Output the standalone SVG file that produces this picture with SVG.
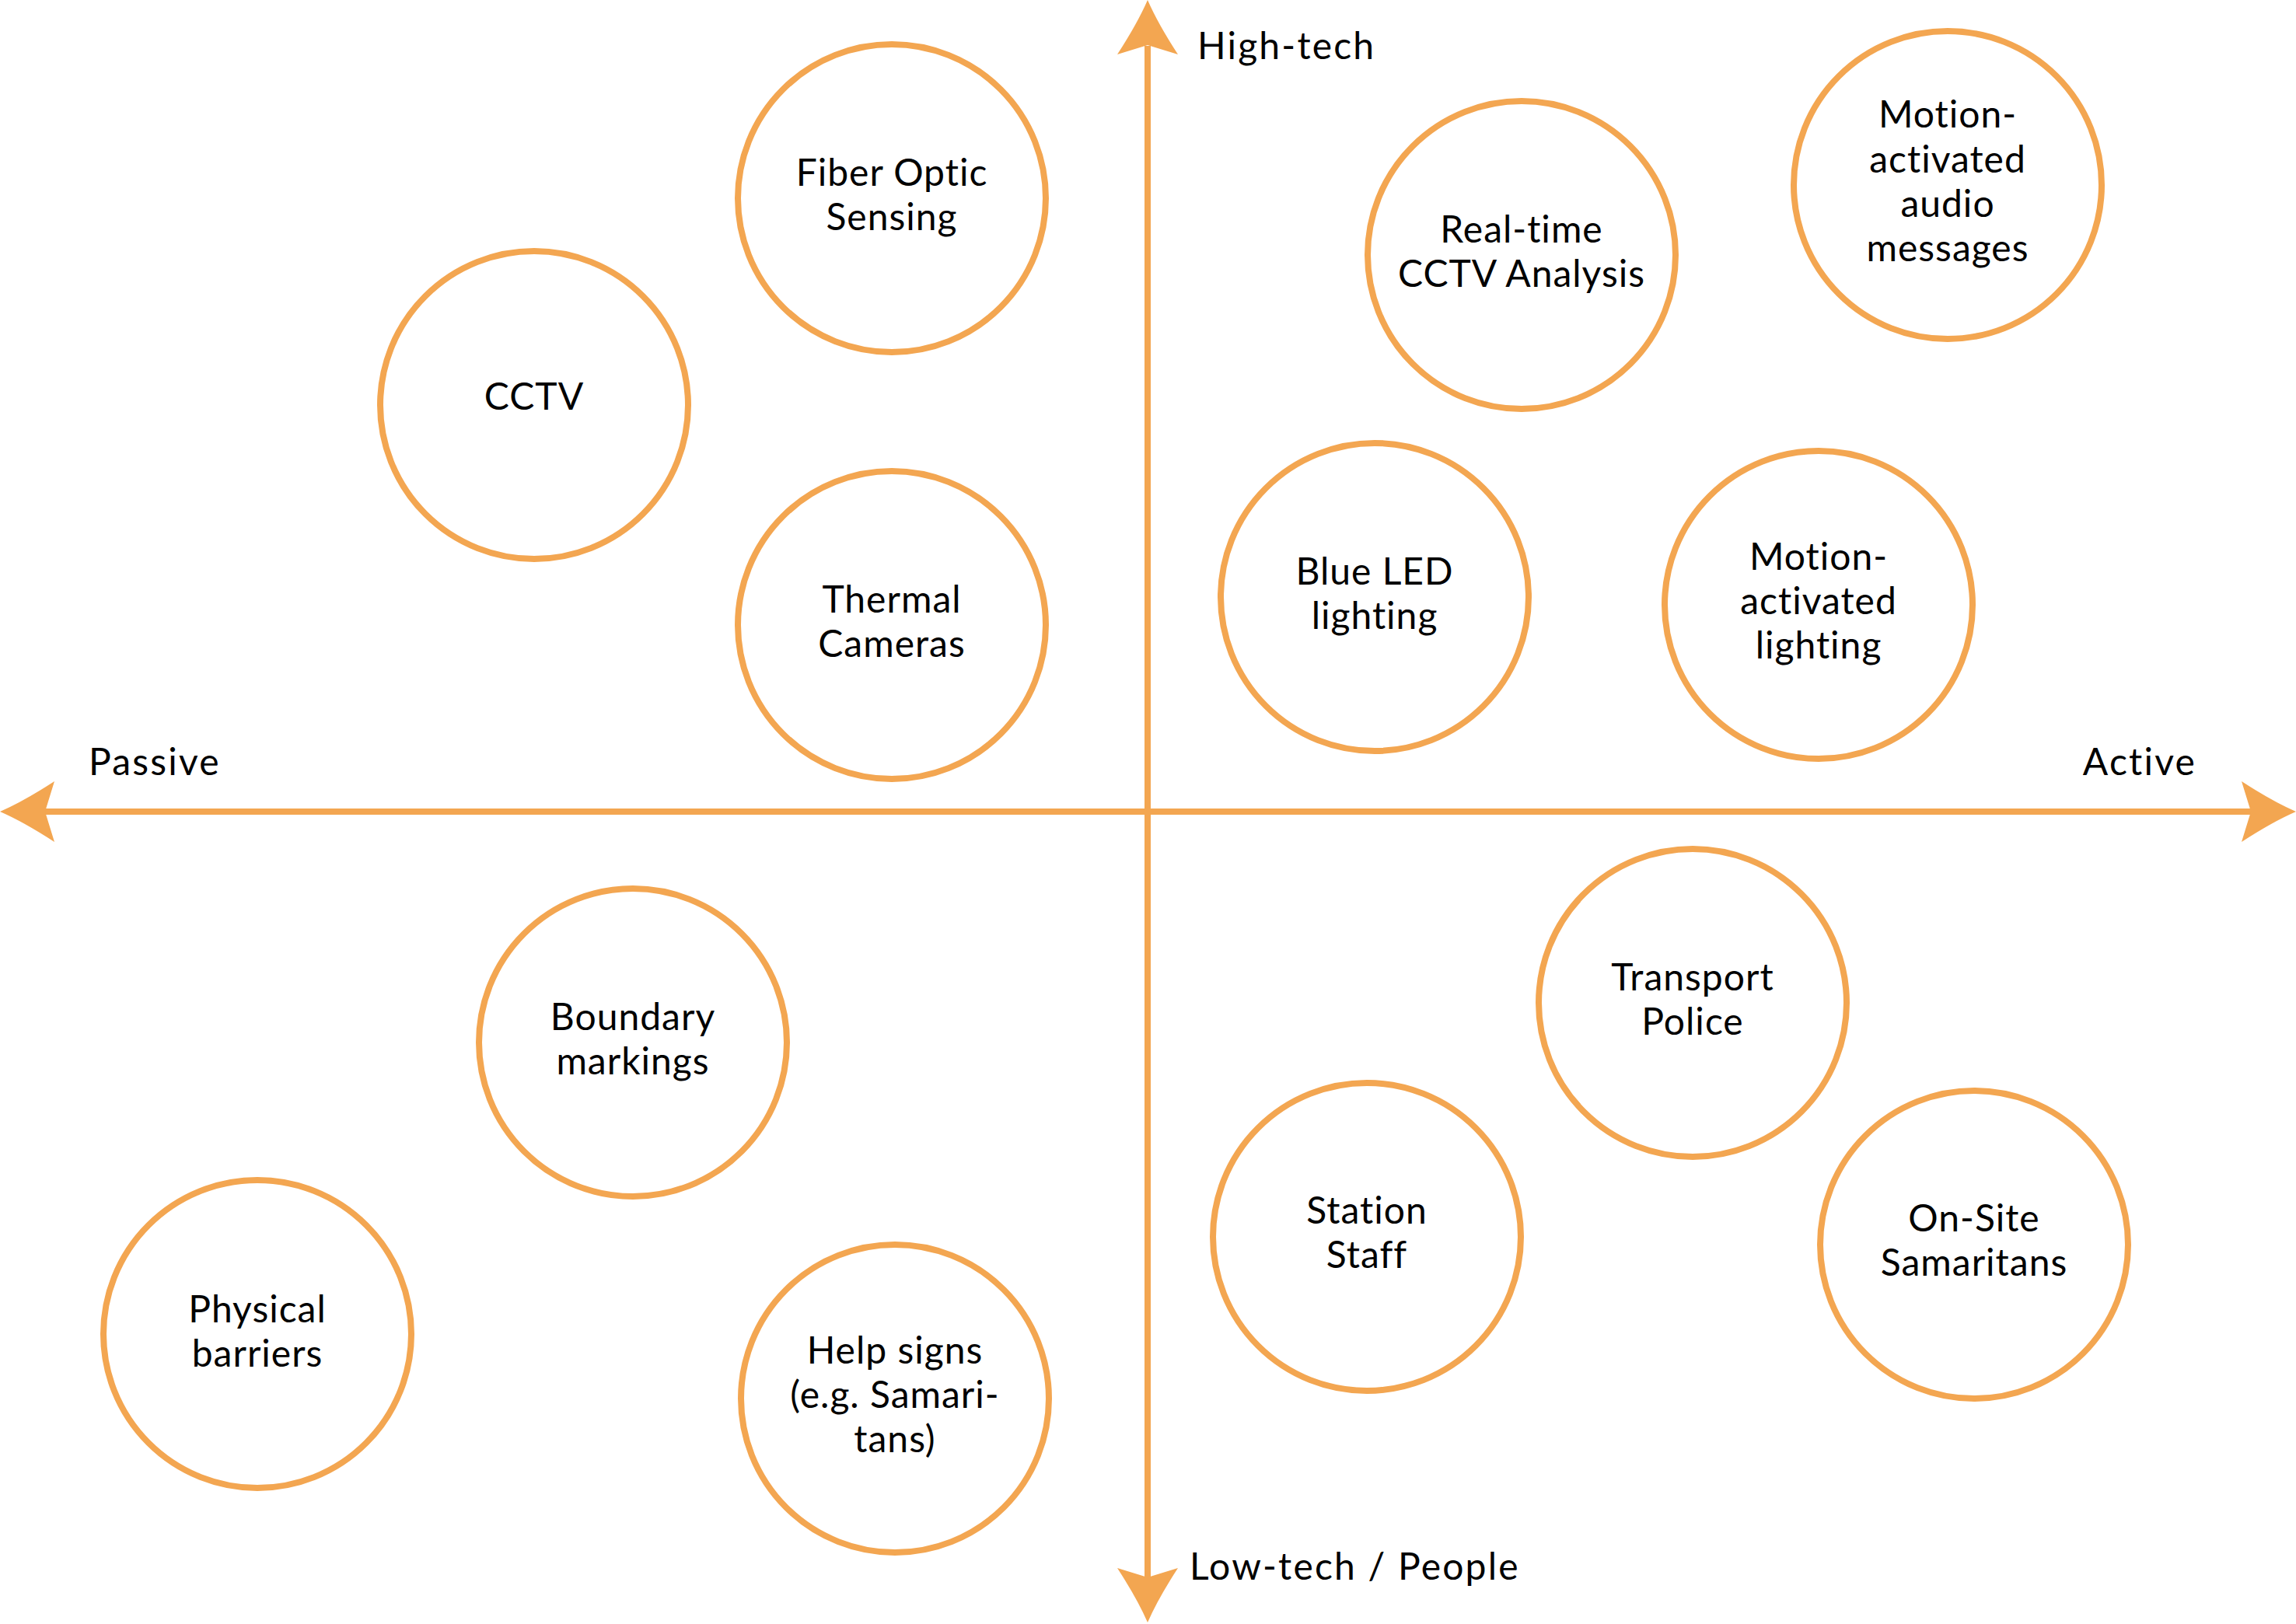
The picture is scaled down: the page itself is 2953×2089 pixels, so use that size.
<svg xmlns="http://www.w3.org/2000/svg" xmlns:xlink="http://www.w3.org/1999/xlink" width="2953" height="2089" viewBox="0 0 2953 2089">
<style>
.node circle{fill:#fff;stroke:#F3A651;stroke-width:8}
text{font-family:Lato,"Open Sans","Liberation Sans",sans-serif;font-size:48px;letter-spacing:1px;fill:#000}
.node text{text-anchor:middle}
.lbl{letter-spacing:2.2px}
.axis{stroke:#F3A651;stroke-width:8;fill:none}
.head{fill:#F3A651}
</style>
<defs>
<path id="ah" d="M0,0 Q-30,-13 -70,-39 L-58,0 L-70,39 Q-30,13 0,0 Z"/>
</defs>
<rect width="2953" height="2089" fill="#fff"/>
<g id="connectors">
<line class="axis" x1="58" y1="1044" x2="2895" y2="1044"/>
<line class="axis" x1="1476" y1="59" x2="1476" y2="2029"/>
<use xlink:href="#ah" class="head" transform="translate(2953,1044)"/>
<use xlink:href="#ah" class="head" transform="translate(0,1044) rotate(180)"/>
<use xlink:href="#ah" class="head" transform="translate(1476,0) rotate(-90)"/>
<use xlink:href="#ah" class="head" transform="translate(1476,2087) rotate(90)"/>
</g>
<g id="axis-labels">
<text class="lbl" x="1540" y="76">High-tech</text>
<text class="lbl" x="114" y="997">Passive</text>
<text class="lbl" x="2825" y="997" text-anchor="end">Active</text>
<text class="lbl" x="1530" y="2032">Low-tech / People</text>
</g>
<g id="fiber" class="node"><circle cx="1147" cy="255" r="198"/><text x="1147" y="239">Fiber Optic</text><text x="1147" y="296">Sensing</text></g>
<g id="cctv" class="node"><circle cx="687" cy="521" r="198"/><text x="687" y="527">CCTV</text></g>
<g id="thermal" class="node"><circle cx="1147" cy="804" r="198"/><text x="1147" y="788">Thermal</text><text x="1147" y="845">Cameras</text></g>
<g id="realtime" class="node"><circle cx="1957" cy="328" r="198"/><text x="1957" y="312">Real-time</text><text x="1957" y="369">CCTV Analysis</text></g>
<g id="audio" class="node"><circle cx="2505" cy="238" r="198"/><text x="2505" y="164">Motion-</text><text x="2505" y="222">activated</text><text x="2505" y="279">audio</text><text x="2505" y="336">messages</text></g>
<g id="blueled" class="node"><circle cx="1768" cy="768" r="198"/><text x="1768" y="752">Blue LED</text><text x="1768" y="809">lighting</text></g>
<g id="motionlight" class="node"><circle cx="2339" cy="778" r="198"/><text x="2339" y="733">Motion-</text><text x="2339" y="790">activated</text><text x="2339" y="847">lighting</text></g>
<g id="boundary" class="node"><circle cx="814" cy="1341" r="198"/><text x="814" y="1325">Boundary</text><text x="814" y="1382">markings</text></g>
<g id="physical" class="node"><circle cx="331" cy="1716" r="198"/><text x="331" y="1701">Physical</text><text x="331" y="1758">barriers</text></g>
<g id="help" class="node"><circle cx="1151" cy="1799" r="198"/><text x="1151" y="1754">Help signs</text><text x="1151" y="1811">(e.g. Samari-</text><text x="1151" y="1868">tans)</text></g>
<g id="staff" class="node"><circle cx="1758" cy="1591" r="198"/><text x="1758" y="1574">Station</text><text x="1758" y="1631">Staff</text></g>
<g id="police" class="node"><circle cx="2177" cy="1290" r="198"/><text x="2177" y="1274">Transport</text><text x="2177" y="1331">Police</text></g>
<g id="samaritans" class="node"><circle cx="2539" cy="1601" r="198"/><text x="2539" y="1584">On-Site</text><text x="2539" y="1641">Samaritans</text></g>
</svg>
